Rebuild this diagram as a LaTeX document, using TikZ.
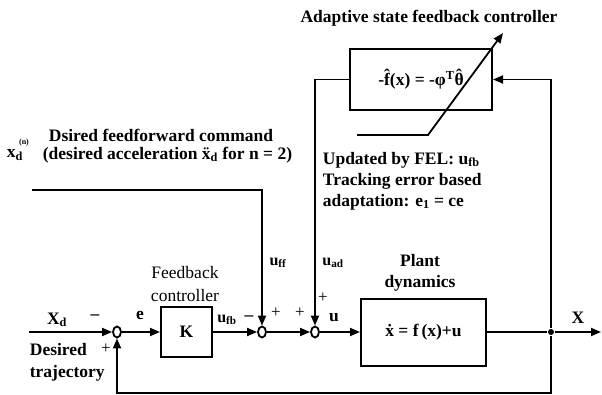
\documentclass[tikz,border=0pt]{standalone}
\usepackage{fontspec}
\setmainfont{Liberation Serif}
\usetikzlibrary{arrows.meta,shapes.geometric}
\newcommand\sbs[1]{\textsubscript{#1}}
\newcommand\accd[2]{\setbox0\hbox{#2}\rlap{\hbox to\wd0{\hss\raisebox{\dimexpr\ht0-0.47em\relax}{#1}\hss}}\box0\relax}
\begin{document}
\begin{tikzpicture}[x=1pt,y=-1pt,
  line width=1.8pt,
  every node/.style={font=\fontsize{17.5}{21}\selectfont\bfseries, inner sep=0pt},
  blk/.style={draw, line width=2pt, inner sep=0pt},
  sumc/.style={draw, ellipse, minimum width=8pt, minimum height=11pt, line width=1.8pt},
  arr/.style={-{Triangle[length=10pt,width=8pt]}},
  dotc/.style={circle, fill, minimum size=6pt},
  sgn/.style={font=\fontsize{17}{20}\selectfont\mdseries},
  lbl/.style={font=\fontsize{16}{19}\selectfont\bfseries},
  ]
\useasboundingbox (0,0) rectangle (602,395);

% blocks
\node[blk, minimum width=142pt, minimum height=61pt] (ad) at (421,79.5) {-\accd{ˆ}{f}(x) = -φ\textsuperscript{T}\accd{ˆ}{θ}};
\node[blk, minimum width=51pt, minimum height=50pt] (K) at (186.5,332) {K};
\node[blk, minimum width=125pt, minimum height=67pt] (plant) at (423.5,332) {\accd{˙}{x} = f\,(x)+u};

% summing junctions and branch point
\node[sumc] (s0) at (117,332) {};
\node[sumc] (s1) at (262,332) {};
\node[sumc] (s2) at (315,332) {};
\node[dotc] (dot) at (551,332) {};

% free ends
\coordinate (in) at (29,332);
\coordinate (out) at (601,332);
\coordinate (ff) at (32,190);
\coordinate (fb) at (551,393);
\coordinate (d0) at (357,135);
\coordinate (d1) at (428,135);
\coordinate (d2) at (503,33);

% connectors
\draw[arr] (in) -- (s0);
\draw[arr] (s0) -- (K);
\draw[arr] (K) -- (s1);
\draw[arr] (s1) -- (s2);
\draw[arr] (s2) -- (plant);
\draw (plant) -- (dot);
\draw[arr] (dot) -- (out);
\draw[arr] (dot) -- (fb) -| (s0);
\draw[arr] (dot) |- (ad.east);
\draw[arr] (ad.west) -| (s2);
\draw[arr] (ff) -| (s1);
\draw[arr] (d0) -- (d1) -- (d2);

% texts
\node at (429,18) {Adaptive state feedback controller};
\node[anchor=west] at (48,135) {Dsired feedforward command};
\node[anchor=west] at (6,155) {x\sbs{d}};
\node[font=\fontsize{8}{9}\selectfont\bfseries] at (24,143) {(n)};
\node[anchor=west] at (42,155) {(desired acceleration \accd{¨}{x}\sbs{d} for n = 2)};
\node[anchor=west] at (322,160) {Updated by FEL: u\sbs{fb}};
\node[anchor=west] at (322,181) {Tracking error based};
\node[anchor=west] at (322,202) {adaptation: e\sbs{1} = ce};

\node[font=\fontsize{17.5}{21}\selectfont\mdseries] at (185,273) {Feedback};
\node[font=\fontsize{17.5}{21}\selectfont\mdseries] at (185,296) {controller};
\node at (420,261) {Plant};
\node at (420,283) {dynamics};

\node at (57,320) {X\sbs{d}};
\node[anchor=west] at (29,350) {Desired};
\node[anchor=west] at (29,373) {trajectory};
\node at (140,315) {e};
\node[lbl] at (227,320) {u\sbs{fb}};
\node[lbl] at (278,263) {u\sbs{ff}};
\node[lbl] at (333,263) {u\sbs{ad}};
\node at (334,318) {u};
\node at (578,318) {X};

% signs
\node at (95,317) {–};
\node[sgn] at (106,349) {+};
\node at (249,318) {–};
\node[sgn] at (276,313) {+};
\node[sgn] at (300,313) {+};
\node[sgn] at (323,298) {+};
\end{tikzpicture}
\end{document}
